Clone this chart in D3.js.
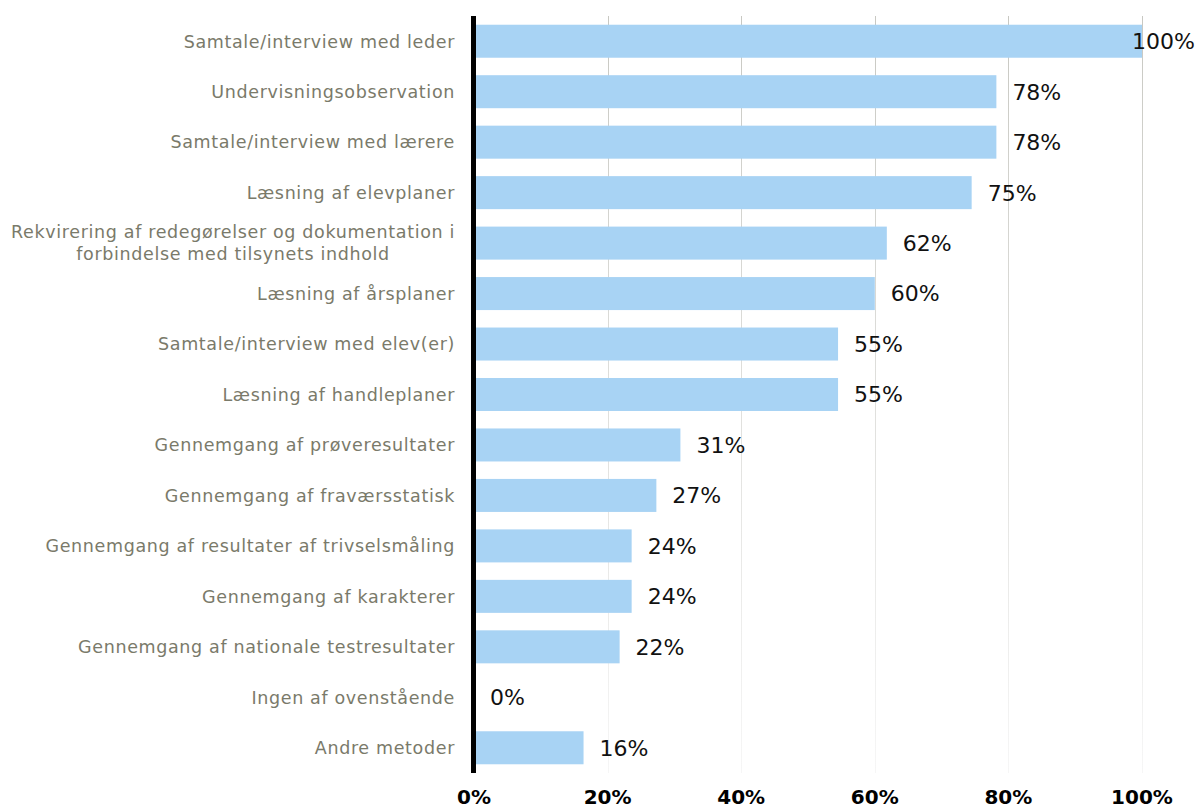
<!DOCTYPE html>
<meta charset="utf-8">
<style>
body { margin: 0; background: #fff; }
text { font-family: "DejaVu Sans", Verdana, sans-serif; }
</style>
<svg width="1197" height="805"></svg>
<script src="https://d3js.org/d3.v7.min.js"></script>
<script>
var svg = d3.select("svg"),
    width = +svg.attr("width"),
    height = +svg.attr("height");

// categories, top to bottom
var categories = [
  "Samtale/interview med leder",
  "Undervisningsobservation",
  "Samtale/interview med lærere",
  "Læsning af elevplaner",
  "Rekvirering af redegørelser og dokumentation i forbindelse med tilsynets indhold",
  "Læsning af årsplaner",
  "Samtale/interview med elev(er)",
  "Læsning af handleplaner",
  "Gennemgang af prøveresultater",
  "Gennemgang af fraværsstatisk",
  "Gennemgang af resultater af trivselsmåling",
  "Gennemgang af karakterer",
  "Gennemgang af nationale testresultater",
  "Ingen af ovenstående",
  "Andre metoder"
];

// share of respondents (%)
var values = [100, 78.2, 78.2, 74.5, 61.8, 60, 54.5, 54.5, 30.9, 27.3, 23.6, 23.6, 21.8, 0, 16.4];

var ticks = [0, 20, 40, 60, 80, 100];

var data = categories.map(function(c, i) { return {name: c, value: values[i]}; });

var plotTop = 16, plotBottom = 773, plotLeft = 474, plotRight = 1142;

var x = d3.scaleLinear().domain([0, 100]).range([plotLeft, plotRight]);
var y = d3.scaleBand()
    .domain(categories)
    .range([plotTop, plotBottom])
    .paddingInner(0.346)
    .paddingOuter(0.173);

// gridlines fade out toward the bottom
var grad = svg.append("defs").append("linearGradient")
    .attr("id", "gridfade")
    .attr("gradientUnits", "userSpaceOnUse")
    .attr("x1", 0).attr("y1", plotTop).attr("x2", 0).attr("y2", plotBottom);
grad.append("stop").attr("offset", "0%").attr("stop-color", "#c8c8c2");
grad.append("stop").attr("offset", "100%").attr("stop-color", "#f6f6f6");

svg.append("g")
    .attr("class", "grid")
    .selectAll("rect")
    .data(ticks.slice(1))
    .enter()
    .append("rect")
    .attr("x", function(d) { return Math.round(x(d)); })
    .attr("width", 1)
    .attr("y", plotTop)
    .attr("height", plotBottom - plotTop)
    .attr("fill", "url(#gridfade)");

// bars
svg.append("g")
    .attr("class", "bars")
    .selectAll("rect")
    .data(data)
    .enter()
    .append("rect")
    .attr("x", x(0))
    .attr("y", function(d) { return y(d.name); })
    .attr("width", function(d) { return x(d.value) - x(0); })
    .attr("height", y.bandwidth())
    .attr("fill", "#a8d3f4");

// value labels
var fmt = function(v) { return Math.round(v) + "%"; };
svg.append("g")
    .attr("class", "values")
    .selectAll("text")
    .data(data)
    .enter()
    .append("text")
    .attr("y", function(d) { return y(d.name) + y.bandwidth() / 2; })
    .attr("dy", "0.36em")
    .attr("font-size", 22)
    .attr("fill", "#111")
    .text(function(d) { return fmt(d.value); })
    .attr("x", function(d) {
        var tx = x(d.value) + 16,
            w = this.getComputedTextLength();
        if (tx + w > width - 2) tx = width - 2 - w;
        return tx;
    });

// category labels, wrapped and centred within a right aligned block
var labelRight = 455, maxW = 460;
svg.append("g")
    .attr("class", "labels")
    .selectAll("text")
    .data(data)
    .enter()
    .append("text")
    .attr("font-size", 17.5)
    .attr("letter-spacing", 0.65)
    .attr("fill", "#7a7a6a")
    .each(function(d) {
        var t = d3.select(this),
            words = d.name.split(" "),
            lines = [], line = [];
        var probe = t.append("tspan");
        words.forEach(function(w) {
            line.push(w);
            probe.text(line.join(" "));
            if (probe.node().getComputedTextLength() > maxW && line.length > 1) {
                line.pop();
                lines.push(line.join(" "));
                line = [w];
            }
        });
        lines.push(line.join(" "));
        probe.remove();
        var cy = y(d.name) + y.bandwidth() / 2,
            lh = 22;
        if (lines.length === 1) {
            t.append("tspan")
                .attr("x", labelRight)
                .attr("y", cy)
                .attr("dy", "0.36em")
                .attr("text-anchor", "end")
                .text(lines[0]);
        } else {
            var spans = lines.map(function(l, i) {
                return t.append("tspan")
                    .attr("y", cy + (i - (lines.length - 1) / 2) * lh)
                    .attr("dy", "0.36em")
                    .attr("text-anchor", "middle")
                    .text(l);
            });
            var wmax = d3.max(spans, function(s) { return s.node().getComputedTextLength(); });
            spans.forEach(function(s) { s.attr("x", labelRight - wmax / 2); });
        }
    });

// y axis line
svg.append("line")
    .attr("x1", plotLeft - 0.5)
    .attr("x2", plotLeft - 0.5)
    .attr("y1", plotTop)
    .attr("y2", plotBottom)
    .attr("stroke", "#000")
    .attr("stroke-width", 5);

// x axis tick labels
svg.append("g")
    .attr("class", "ticks")
    .selectAll("text")
    .data(ticks)
    .enter()
    .append("text")
    .attr("x", function(d) { return x(d); })
    .attr("y", 804)
    .attr("text-anchor", "middle")
    .attr("font-size", 20)
    .attr("font-weight", "bold")
    .attr("fill", "#000")
    .text(function(d) { return d + "%"; });
</script>
